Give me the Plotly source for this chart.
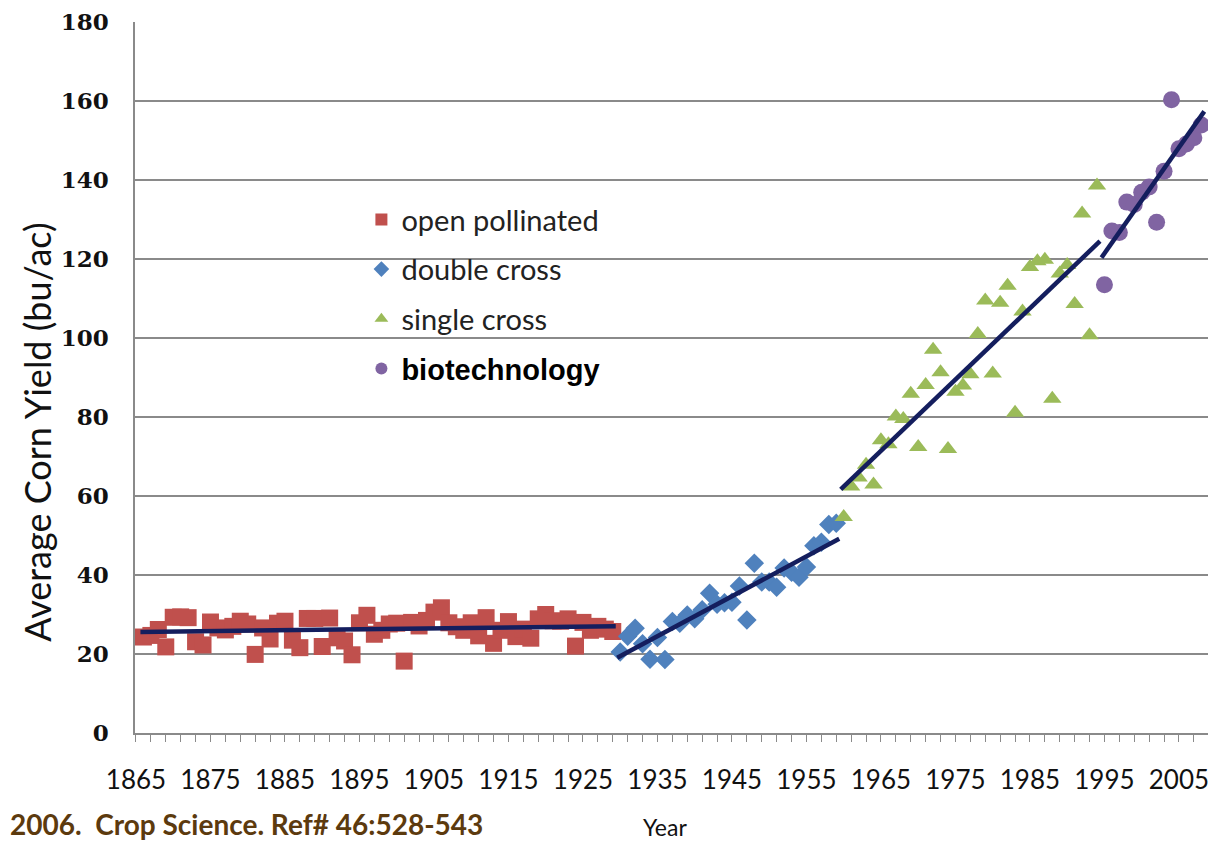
import numpy as np
import plotly.graph_objects as go

# ---------------- data ----------------
op_years = list(range(1866, 1930))
op_yield = [24.3, 24.7, 26.2, 21.8, 29.3, 29.4, 29.2, 23.1, 22.3, 28.1,
            26.6, 26.1, 27.0, 28.3, 27.6, 19.9, 26.6, 23.8, 27.8, 28.3,
            23.5, 21.6, 29.0, 29.0, 21.9, 29.1, 24.1, 23.3, 19.8, 27.9,
            29.8, 25.0, 26.0, 27.6, 27.8, 18.2, 28.0, 27.1, 28.5, 30.6,
            31.7, 27.9, 26.9, 26.0, 27.9, 24.6, 29.2, 22.7, 26.0, 28.2,
            24.4, 26.3, 24.0, 28.9, 30.0, 28.4, 28.3, 28.9, 22.0, 28.0,
            26.0, 27.0, 26.3, 25.7]

dc_years = list(range(1930, 1960))
dc_yield = [20.5, 24.5, 26.5, 22.6, 18.7, 24.2, 18.6, 28.2, 27.8, 29.9,
            28.9, 31.2, 35.4, 32.6, 33.0, 33.1, 37.2, 28.6, 43.0, 38.2,
            38.2, 36.9, 41.8, 40.7, 39.4, 42.0, 47.4, 48.3, 52.8, 53.1]

sc_years = list(range(1960, 1995))
sc_yield = [54.7, 62.4, 64.7, 67.9, 62.9, 74.1, 73.1, 80.1, 79.5, 85.9,
            72.4, 88.1, 97.0, 91.3, 71.9, 86.4, 88.0, 90.8, 101.0, 109.5,
            91.0, 108.9, 113.2, 81.1, 106.7, 118.0, 119.4, 119.8, 84.6, 116.3,
            118.5, 108.6, 131.5, 100.7, 138.6]

bt_years = list(range(1995, 2009))
bt_yield = [113.5, 127.1, 126.7, 134.4, 133.8, 136.9, 138.2, 129.3, 142.2, 160.3,
            147.9, 149.1, 150.7, 153.9]

series_names = ["open pollinated", "double cross", "single cross", "biotechnology"]
tick_years = list(range(1865, 2006, 10))
y_ticks = list(range(0, 181, 20))

# ---------------- style ----------------
colors = ["#C0504D", "#4F81BD", "#9BBB59", "#8064A2"]
symbols = ["square", "diamond", "triangle-up", "circle"]
sizes = [17, 15, 16, 17]
trend_color = "#141E5E"

legend_labels = [
    "<span style='color:#222'>open pollinated</span>",
    "<span style='color:#222'>double cross</span>",
    "<span style='color:#222'>single cross</span>",
    "<span style='font-family:Liberation Sans;color:#000'><b>biotechnology</b></span>",
]

fig = go.Figure()

groups = [(op_years, op_yield), (dc_years, dc_yield), (sc_years, sc_yield), (bt_years, bt_yield)]

for i, (xs, ys) in enumerate(groups):
    fig.add_trace(go.Scatter(
        x=xs, y=ys, mode="markers", name=legend_labels[i],
        legendgroup=series_names[i], cliponaxis=False,
        marker=dict(symbol=symbols[i], size=sizes[i], color=colors[i], line=dict(width=0)),
    ))

# linear trend lines per group
for i, (xs, ys) in enumerate(groups):
    a, b = np.polyfit(xs, ys, 1)
    x0, x1 = xs[0] - 0.4, xs[-1] + 0.4
    fig.add_trace(go.Scatter(
        x=[x0, x1], y=[a * x0 + b, a * x1 + b], mode="lines",
        line=dict(color=trend_color, width=4.5), showlegend=False, hoverinfo="skip",
    ))

fig.update_layout(
    width=1200, height=835,
    margin=dict(l=127, r=0, t=14, b=110, autoexpand=False),
    paper_bgcolor="white", plot_bgcolor="white",
    showlegend=True,
    legend=dict(
        x=0.211, y=0.758, xanchor="left", yanchor="top",
        font=dict(family="Lato", size=29, color="#222"),
        bgcolor="rgba(0,0,0,0)", tracegroupgap=9,
        itemsizing="constant", itemwidth=30,
    ),
    xaxis=dict(
        range=[1864.87, 2008.9],
        tickmode="array", tickvals=tick_years, ticktext=[str(t) for t in tick_years],
        showgrid=False, showline=True, linecolor="#8a8a8a", linewidth=1.5,
        ticks="outside", ticklen=7, tickcolor="#8a8a8a", tickwidth=1,
        minor=dict(dtick=2, tick0=1865, ticks="outside", ticklen=7, tickcolor="#8a8a8a", showgrid=False),
        tickfont=dict(family="Lato", size=26, color="#111"),
        ticklabelstandoff=16, ticklabeloverflow="allow",
        zeroline=False,
    ),
    yaxis=dict(
        range=[0, 180], tickmode="array", tickvals=y_ticks,
        showgrid=True, gridcolor="#8a8a8a", gridwidth=1.5,
        showline=True, linecolor="#8a8a8a", linewidth=1.5,
        tickfont=dict(family="DejaVu Serif", size=23, color="#111", weight="bold"),
        ticklabelstandoff=20, zeroline=False,
    ),
)

fig.add_annotation(
    text="Average Corn Yield (bu/ac)", textangle=-90,
    xref="paper", yref="paper", x=-0.0915, y=0.4235, xanchor="center", yanchor="middle",
    showarrow=False, font=dict(family="Lato", size=36, color="#111"),
)
fig.add_annotation(
    text="Year", xref="paper", yref="paper", x=0.494, y=-0.1546,
    xanchor="center", yanchor="bottom", showarrow=False,
    font=dict(family="Lato", size=23, color="#111"),
)
fig.add_annotation(
    text="<b>2006.  Crop Science. Ref# 46:528-543</b>",
    xref="paper", yref="paper", x=-0.1184, y=-0.1546, xanchor="left", yanchor="bottom",
    showarrow=False, font=dict(family="Lato", size=28, color="#5C3A0E"),
)

fig.write_html("out.html")
